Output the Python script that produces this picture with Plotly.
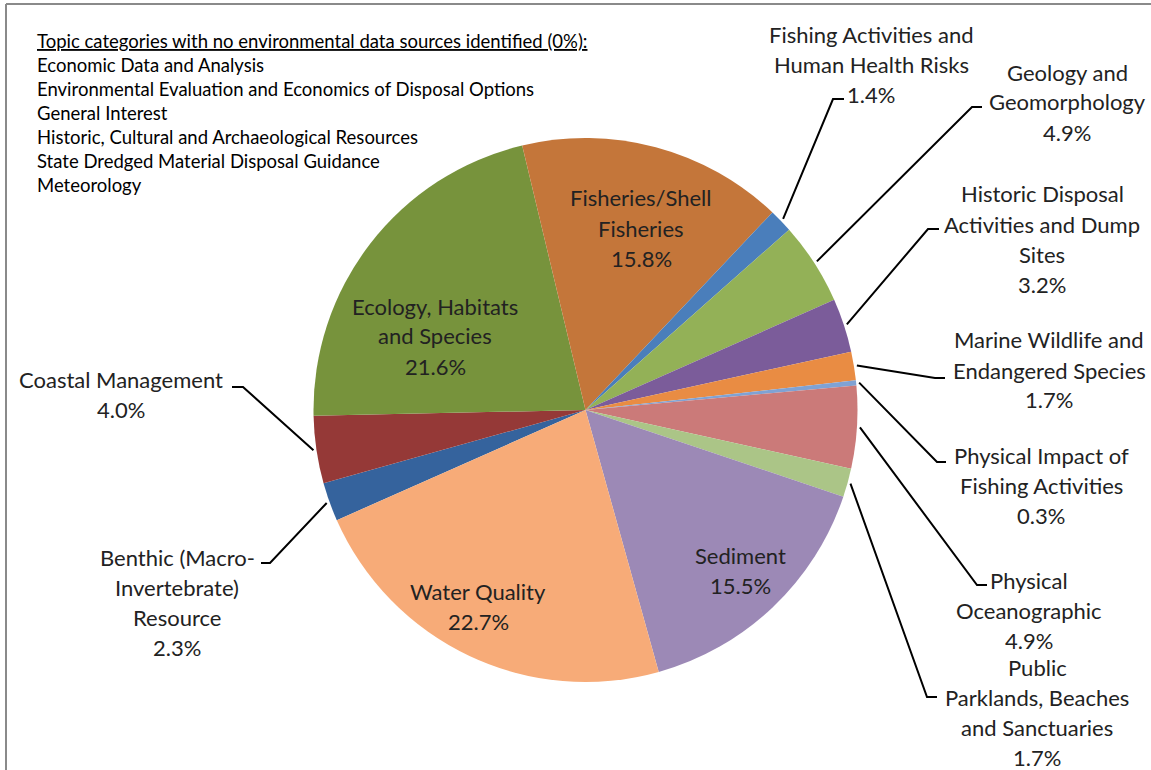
import math
import plotly.graph_objects as go

W, H = 1151, 770

# ---------------- data ----------------
categories = [
    "Benthic (Macro-Invertebrate) Resource",
    "Coastal Management",
    "Ecology, Habitats and Species",
    "Fisheries/Shell Fisheries",
    "Fishing Activities and Human Health Risks",
    "Geology and Geomorphology",
    "Historic Disposal Activities and Dump Sites",
    "Marine Wildlife and Endangered Species",
    "Physical Impact of Fishing Activities",
    "Physical Oceanographic",
    "Public Parklands, Beaches and Sanctuaries",
    "Sediment",
    "Water Quality",
]
values = [2.3, 4.0, 21.6, 15.8, 1.4, 4.9, 3.2, 1.7, 0.3, 4.9, 1.7, 15.5, 22.7]

no_data_title = "Topic categories with no environmental data sources identified (0%):"
no_data_topics = [
    "Economic Data and Analysis",
    "Environmental Evaluation and Economics of Disposal Options",
    "General Interest",
    "Historic, Cultural and Archaeological Resources",
    "State Dredged Material Disposal Guidance",
    "Meteorology",
]

# ---------------- styles ----------------
colors = [
    "#35639D", "#953937", "#77933C", "#C4763A", "#4A7EBB", "#93B157",
    "#7B5C9A", "#E98C43", "#7FA2D4", "#CB7A79", "#ABC587", "#9C89B6", "#F7AB78",
]

FONT = "Lato"
TXT = "#222222"
LBL_SIZE = 22
LINE_GAP = 30

# pie geometry (pixels)
CX, CY, R = 585.5, 410, 272
ROTATION = 246.1

# label layout: wrapped lines, centre x, first-line y, leader (elbow, end) or None
label_layout = {
    "Benthic (Macro-Invertebrate) Resource": (["Benthic (Macro-", "Invertebrate)", "Resource"], 177, 557, ((270, 563), (261, 563))),
    "Coastal Management": (["Coastal Management"], 121, 379, ((243, 387), (232, 387))),
    "Ecology, Habitats and Species": (["Ecology, Habitats", "and Species"], 435, 306, None),
    "Fisheries/Shell Fisheries": (["Fisheries/Shell", "Fisheries"], 641, 198, None),
    "Fishing Activities and Human Health Risks": (["Fishing Activities and", "Human Health Risks"], 871, 34, ((833, 99), (844, 99))),
    "Geology and Geomorphology": (["Geology and", "Geomorphology"], 1067, 72, ((972, 107), (982, 107))),
    "Historic Disposal Activities and Dump Sites": (["Historic Disposal", "Activities and Dump", "Sites"], 1042, 194, ((928, 229), (939, 229))),
    "Marine Wildlife and Endangered Species": (["Marine Wildlife and", "Endangered Species"], 1049, 340, ((935, 378), (945, 378))),
    "Physical Impact of Fishing Activities": (["Physical Impact of", "Fishing Activities"], 1041, 455, ((937, 462), (946, 462))),
    "Physical Oceanographic": (["Physical", "Oceanographic"], 1029, 580, ((977, 585), (987, 585))),
    "Public Parklands, Beaches and Sanctuaries": (["Public", "Parklands, Beaches", "and Sanctuaries"], 1037, 667, ((927, 697), (937, 697))),
    "Sediment": (["Sediment"], 740, 555, None),
    "Water Quality": (["Water Quality"], 478, 591, None),
}


def px(x):
    return x / W


def py(y):
    return 1 - y / H


fig = go.Figure()
fig.add_trace(go.Pie(
    labels=categories,
    values=values,
    sort=False,
    direction="clockwise",
    rotation=ROTATION,
    marker=dict(colors=colors, line=dict(width=0)),
    textinfo="none",
    hoverinfo="label+percent",
    showlegend=False,
    domain=dict(x=[px(CX - R), px(CX + R)], y=[py(CY + R), py(CY - R)]),
))

annotations = []
shapes = []

total = sum(values)
cum = 0.0
for cat, v in zip(categories, values):
    mid = ROTATION + (cum + v / 2) / total * 360.0
    cum += v
    lines, lx, ly, leader = label_layout[cat]
    all_lines = lines + [f"{v / total * 100:.1f}%"]
    for i, t in enumerate(all_lines):
        annotations.append(dict(
            x=px(lx), y=py(ly + i * LINE_GAP), xref="paper", yref="paper",
            text=t, showarrow=False, xanchor="center", yanchor="middle",
            font=dict(family=FONT, size=LBL_SIZE, color=TXT),
        ))
    if leader is not None:
        a = math.radians(mid)
        rx = CX + (R + 3) * math.sin(a)
        ry = CY - (R + 3) * math.cos(a)
        (ex, ey), (tx, ty) = leader
        path = f"M {px(rx)},{py(ry)} L {px(ex)},{py(ey)} L {px(tx)},{py(ty)}"
        shapes.append(dict(type="path", xref="paper", yref="paper", path=path,
                           line=dict(color="black", width=2)))

# no-data note
note_lines = [f"<u>{no_data_title}</u>"] + no_data_topics
for i, t in enumerate(note_lines):
    annotations.append(dict(
        x=px(35), y=py(41 + i * 24), xref="paper", yref="paper",
        text=t, showarrow=False, xanchor="left", yanchor="middle",
        font=dict(family=FONT, size=18.5, color="#000000"),
    ))

# chart frame (left and top edges visible)
shapes.append(dict(type="line", xref="paper", yref="paper", x0=px(6), x1=px(6), y0=py(4), y1=py(775),
                   line=dict(color="#8a8a8a", width=2)))
shapes.append(dict(type="line", xref="paper", yref="paper", x0=px(6), x1=px(1160), y0=py(4), y1=py(4),
                   line=dict(color="#8a8a8a", width=2)))

fig.update_layout(
    width=W, height=H,
    margin=dict(l=0, r=0, t=0, b=0),
    paper_bgcolor="white", plot_bgcolor="white",
    annotations=annotations, shapes=shapes,
    font=dict(family=FONT),
)

fig.write_html("out.html")
